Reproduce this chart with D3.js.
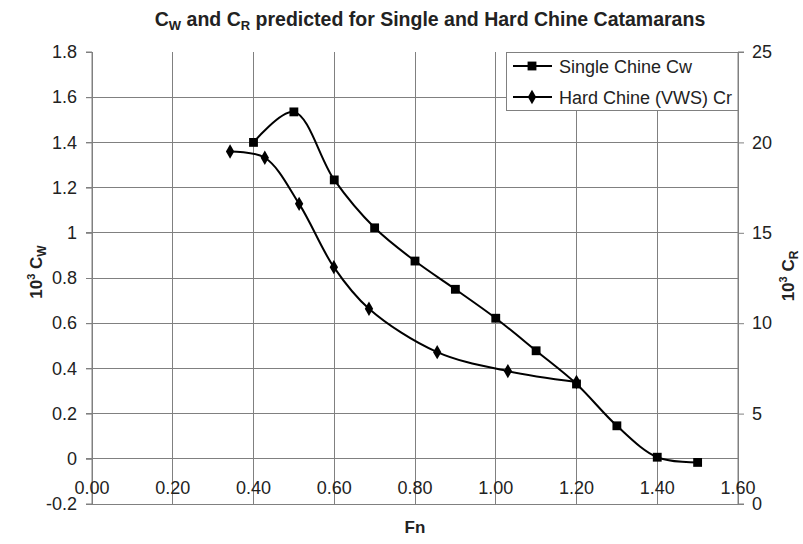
<!DOCTYPE html>
<html><head><meta charset="utf-8">
<script src="https://cdn.jsdelivr.net/npm/d3@7"></script>
<style>
html,body{margin:0;padding:0;background:#fff;}
svg{display:block;font-family:"Liberation Sans",Arial,sans-serif;}
</style></head>
<body><svg id="c" width="803" height="544"></svg>
<script>
// Data
const fnCw = [0.40, 0.50, 0.60, 0.70, 0.80, 0.90, 1.00, 1.10, 1.20, 1.30, 1.40, 1.50];
const cwValues = [1.40, 1.535, 1.234, 1.022, 0.875, 0.75, 0.622, 0.478, 0.331, 0.146, 0.007, -0.016];
const fnCr = [0.342, 0.428, 0.513, 0.599, 0.686, 0.855, 1.03, 1.20];
const crValues = [19.5, 19.15, 16.6, 13.1, 10.8, 8.4, 7.35, 6.75];
const xTicks = [0, 0.2, 0.4, 0.6, 0.8, 1.0, 1.2, 1.4, 1.6];
const yLeftTicks = [-0.2, 0, 0.2, 0.4, 0.6, 0.8, 1.0, 1.2, 1.4, 1.6, 1.8];
const yRightTicks = [0, 5, 10, 15, 20, 25];
const seriesNames = ["Single Chine Cw", "Hard Chine (VWS) Cr"];

const L = 92, R = 738, T = 52, B = 504;
const svg = d3.select("#c");
const x = d3.scaleLinear().domain([0, 1.6]).range([L, R]);
const yL = d3.scaleLinear().domain([-0.2, 1.8]).range([B, T]);
const yR = d3.scaleLinear().domain([0, 25]).range([B, T]);
const grid = "#808080";

// horizontal gridlines (skip top)
svg.append("g").selectAll("line").data(yLeftTicks.filter(d => d < 1.79)).join("line")
  .attr("x1", L - 6).attr("x2", R).attr("y1", d => yL(d)).attr("y2", d => yL(d))
  .attr("stroke", grid).attr("stroke-width", 1).attr("shape-rendering", "crispEdges");
// vertical gridlines
svg.append("g").selectAll("line").data(xTicks).join("line")
  .attr("x1", d => x(d)).attr("x2", d => x(d)).attr("y1", T).attr("y2", B)
  .attr("stroke", grid).attr("stroke-width", 1).attr("shape-rendering", "crispEdges");

// left axis
const axL = d3.axisLeft(yL).tickValues(yLeftTicks).tickSize(6).tickPadding(9)
  .tickFormat(d => String(+d.toFixed(1)));
const gL = svg.append("g").attr("transform", `translate(${L},0)`).call(axL);
gL.select(".domain").attr("stroke", grid).attr("d", `M-6,${T}H0V${B}H-6`);
gL.selectAll(".tick line").attr("stroke", grid);
gL.selectAll("text").attr("font-size", 18).attr("fill", "#222").attr("font-family", null);

// right axis
const axR = d3.axisRight(yR).tickValues(yRightTicks).tickSize(6).tickPadding(8);
const gR = svg.append("g").attr("transform", `translate(${R},0)`).call(axR);
gR.select(".domain").attr("stroke", grid).attr("d", `M6,${T}H0V${B}H6`);
gR.selectAll(".tick line").attr("stroke", grid);
gR.selectAll("text").attr("font-size", 18).attr("fill", "#222").attr("font-family", null);

// x tick labels
svg.append("g").selectAll("text").data(xTicks).join("text")
  .attr("x", d => x(d)).attr("y", 494).attr("text-anchor", "middle")
  .attr("font-size", 18).attr("fill", "#222").text(d => d.toFixed(2));

// series
const line1 = d3.line().x((d, i) => x(fnCw[i])).y(d => yL(d)).curve(d3.curveCatmullRom.alpha(0.5));
const line2 = d3.line().x((d, i) => x(fnCr[i])).y(d => yR(d)).curve(d3.curveCatmullRom.alpha(0.5));
svg.append("path").attr("d", line1(cwValues)).attr("fill", "none").attr("stroke", "#000").attr("stroke-width", 2);
svg.append("path").attr("d", line2(crValues)).attr("fill", "none").attr("stroke", "#000").attr("stroke-width", 2);
const sq = d3.symbol().type(d3.symbolSquare).size(78);
const dm = d3.symbol().type(d3.symbolDiamond).size(60);
svg.append("g").selectAll("path").data(cwValues).join("path")
  .attr("d", sq).attr("transform", (d, i) => `translate(${x(fnCw[i])},${yL(d)})`).attr("fill", "#000");
svg.append("g").selectAll("path").data(crValues).join("path")
  .attr("d", dm).attr("transform", (d, i) => `translate(${x(fnCr[i])},${yR(d)})`).attr("fill", "#000");

// legend
const lg = svg.append("g");
lg.append("rect").attr("x", 506.5).attr("y", 52.5).attr("width", 231.5).attr("height", 58)
  .attr("fill", "#fff").attr("stroke", grid);
seriesNames.forEach((name, i) => {
  const cy = 66 + i * 31;
  lg.append("line").attr("x1", 513).attr("x2", 552).attr("y1", cy).attr("y2", cy).attr("stroke", "#000").attr("stroke-width", 2);
  lg.append("path").attr("d", i === 0 ? sq() : dm()).attr("transform", `translate(532,${cy})`).attr("fill", "#000");
  lg.append("text").attr("x", 559).attr("y", cy + 6.5).attr("font-size", 18).attr("fill", "#222").text(name);
});

// title
const t = svg.append("text").attr("x", 430).attr("y", 26).attr("text-anchor", "middle")
  .attr("font-size", 19.5).attr("font-weight", "bold").attr("fill", "#222");
t.append("tspan").text("C");
t.append("tspan").attr("font-size", 13).attr("dy", 4).text("W");
t.append("tspan").attr("dy", -4).text(" and C");
t.append("tspan").attr("font-size", 13).attr("dy", 4).text("R");
t.append("tspan").attr("dy", -4).text(" predicted for Single and Hard Chine Catamarans");

// axis titles
const yt = svg.append("text").attr("transform", "translate(42,272) rotate(-90)").attr("text-anchor", "middle")
  .attr("font-size", 17).attr("font-weight", "bold").attr("fill", "#222");
yt.append("tspan").text("10");
yt.append("tspan").attr("font-size", 11).attr("dy", -7).text("3");
yt.append("tspan").attr("dy", 7).text(" C");
yt.append("tspan").attr("font-size", 12).attr("dy", 4).text("W");

const yt2 = svg.append("text").attr("transform", "translate(794,276) rotate(-90)").attr("text-anchor", "middle")
  .attr("font-size", 17).attr("font-weight", "bold").attr("fill", "#222");
yt2.append("tspan").text("10");
yt2.append("tspan").attr("font-size", 11).attr("dy", -7).text("3");
yt2.append("tspan").attr("dy", 7).text(" C");
yt2.append("tspan").attr("font-size", 12).attr("dy", 4).text("R");

svg.append("text").attr("x", 415).attr("y", 533).attr("text-anchor", "middle")
  .attr("font-size", 17).attr("font-weight", "bold").attr("fill", "#222").text("Fn");
</script></body></html>
